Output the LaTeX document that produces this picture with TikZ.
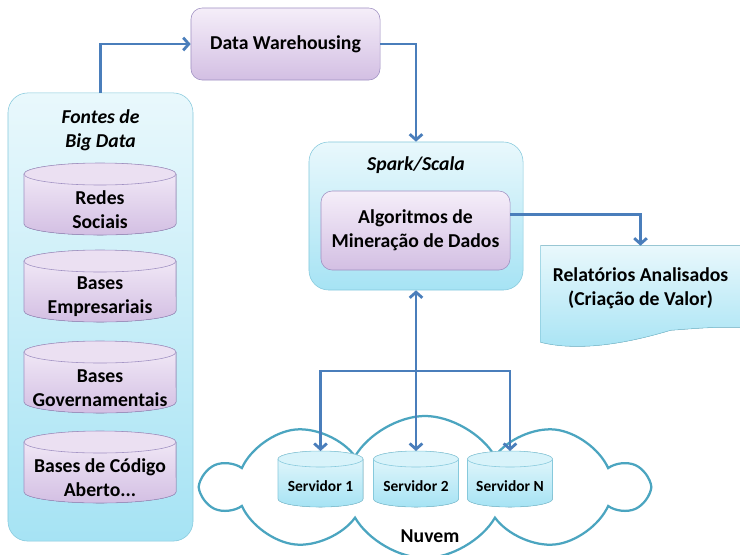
\documentclass[tikz,border=0pt]{standalone}
\usepackage{fontspec}
\setmainfont{Carlito}[BoldFont={Carlito Bold}, BoldItalicFont={Carlito Bold Italic}]
\usepackage{xcolor}
\usetikzlibrary{shapes.symbols,arrows.meta,calc}

\definecolor{cyanTop}{HTML}{E9F8FC}
\definecolor{cyanBot}{HTML}{A6E3F4}
\definecolor{cyanLine}{HTML}{86C9DC}
\definecolor{lilacTop}{HTML}{F5EEF9}
\definecolor{lilacBot}{HTML}{D3BFE3}
\definecolor{lilacLine}{HTML}{9F90C2}
\definecolor{arrowBlue}{HTML}{4A7EBB}
\definecolor{cloudLine}{HTML}{4BA5C0}

\begin{document}
\begin{tikzpicture}[x=0.025cm, y=-0.025cm,
            every node/.style={
            inner sep=0.1em, align=center, font=\fontsize{14}{17}\selectfont\bfseries}
        ]
        \tikzstyle {cyan_box} = [rounded corners=14pt, draw=cyanLine, top color=cyanTop, bottom color=cyanBot]
        \tikzstyle {lilac_box} = [rounded corners=8pt, draw=lilacLine, top color=lilacTop, bottom color=lilacBot]
        \tikzstyle {title_text} = [font=\fontsize{14}{17}\selectfont\bfseries\itshape]
        \tikzstyle {srv_text} = [font=\fontsize{11}{13}\selectfont\bfseries]
        \tikzstyle {flow} = [draw=arrowBlue, line width=2pt, -{Straight Barb[length=4pt,width=9pt]}]

        \useasboundingbox (0,0) rectangle (740,554);

        % nuvem
        \node [cloud, cloud puffs=10, cloud puff arc=120, aspect=3.3, draw=cloudLine, line width=1.6pt,
            fill=white, minimum width=11.05cm, minimum height=3.55cm] (cloud) at (425,487) {};
        \node (nuvem) at (430,536) {Nuvem};

        % fontes
        \node [cyan_box, minimum width=4.625cm, minimum height=11.2cm] (fontes) at (100.5,317) {};
        \node [title_text] (fontes_t) at (100.5,130) {Fontes de\\Big Data};
        \foreach \db/\y/\txt in {redes/210/{Redes\\Sociais}, empr/297/{Bases\\Empresariais},
                gov/388/{Bases\\Governamentais}, aberto/478/{Bases de Código\\Aberto...}} {
            \fill [top color=lilacTop, bottom color=lilacBot]
                (-76+100,\y-36) -- (-76+100,\y+14)
                arc [start angle=180, end angle=360, x radius=1.9cm, y radius=0.275cm]
                -- (76+100,\y-36)
                arc [start angle=0, end angle=180, x radius=1.9cm, y radius=0.275cm] -- cycle;
            \draw [lilacLine] (-76+100,\y-36) -- (-76+100,\y+14)
                arc [start angle=180, end angle=360, x radius=1.9cm, y radius=0.275cm]
                -- (76+100,\y-36);
            \draw [lilacLine, fill=lilacTop!70!lilacBot] (100,\y-36) ellipse [x radius=1.9cm, y radius=0.275cm];
            \node (\db) at (100,\y) {\txt};
        }

        \node [lilac_box, minimum width=4.725cm, minimum height=1.8cm] (dw) at (285.5,44) {Data Warehousing};

        % spark
        \node [cyan_box, minimum width=5.35cm, minimum height=3.7cm] (spark) at (416,216) {};
        \node [title_text] (spark_t) at (416,165) {Spark/Scala};
        \node [lilac_box, minimum width=4.725cm, minimum height=1.975cm] (alg) at (415.5,230.5) {Algoritmos de\\Mineração de Dados};

        % relatorios
        \node [minimum width=4.975cm, minimum height=2.25cm] (rel) at (640.5,291) {};
        \fill [top color=cyanTop, bottom color=cyanBot]
            (rel.north west) -- ($(rel.south west)+(0,6)$)
            .. controls ($(rel.south west)+(40,16)$) and ($(rel.south west)+(90,6)$) .. ($(rel.south)+(30,-6)$)
            .. controls ($(rel.south east)+(-30,-9)$) .. ($(rel.south east)+(0,-9)$)
            -- (rel.north east) -- cycle;
        \draw [cyanLine]
            (rel.north east) -- (rel.north west) -- ($(rel.south west)+(0,6)$)
            .. controls ($(rel.south west)+(40,16)$) and ($(rel.south west)+(90,6)$) .. ($(rel.south)+(30,-6)$)
            .. controls ($(rel.south east)+(-30,-9)$) .. ($(rel.south east)+(0,-9)$);
        \node (rel_t) at (640.5,288) {Relatórios Analisados\\(Criação de Valor)};

        % servidores
        \foreach \srv/\x/\txt in {srv1/320.5/Servidor 1, srv2/416/Servidor 2, srvN/510/Servidor N} {
            \fill [top color=cyanTop, bottom color=cyanBot]
                (\x-42.5,459) -- (\x-42.5,499)
                arc [start angle=180, end angle=360, x radius=1.0625cm, y radius=0.2cm]
                -- (\x+42.5,459)
                arc [start angle=0, end angle=180, x radius=1.0625cm, y radius=0.2cm] -- cycle;
            \draw [cyanLine] (\x-42.5,459) -- (\x-42.5,499)
                arc [start angle=180, end angle=360, x radius=1.0625cm, y radius=0.2cm]
                -- (\x+42.5,459);
            \draw [cyanLine, fill=cyanTop!75!cyanBot] (\x,459) ellipse [x radius=1.0625cm, y radius=0.2cm];
            \node [srv_text] (\srv) at (\x,486) {\txt};
            \coordinate (\srv_top) at (\x,451);
        }

        \coordinate (split) at (416,371);

        \draw [flow] (fontes.north) |- (dw.west);
        \draw [flow] (dw.east) -| (spark.north);
        \draw [flow] ([yshift=0.4cm]alg.east) -| (rel.north);
        \draw [flow, {Straight Barb[length=4pt,width=9pt]}-{Straight Barb[length=4pt,width=9pt]}] (spark.south) -- (srv2_top);
        \draw [flow] (split) -| (srv1_top);
        \draw [flow] (split) -| (srvN_top);

        \end{tikzpicture}
\end{document}
